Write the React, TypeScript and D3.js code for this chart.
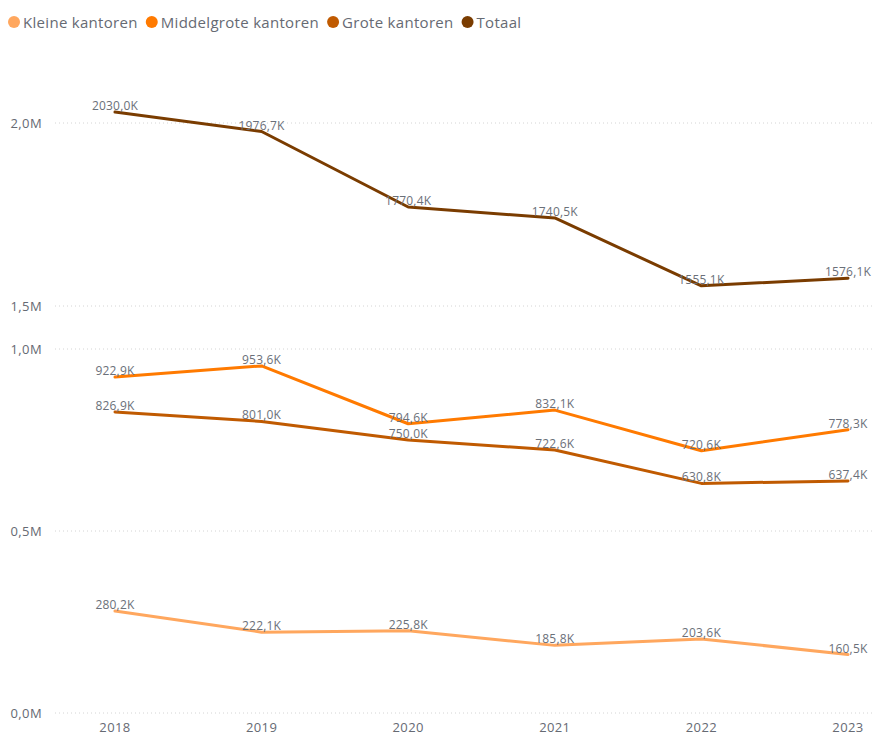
import React, { useEffect, useRef } from "react";
import * as d3 from "d3";

const years = ["2018", "2019", "2020", "2021", "2022", "2023"];
const kleine = [280.2, 222.1, 225.8, 185.8, 203.6, 160.5];
const middelgrote = [922.9, 953.6, 794.6, 832.1, 720.6, 778.3];
const grote = [826.9, 801.0, 750.0, 722.6, 630.8, 637.4];
const totaal = [2030.0, 1976.7, 1770.4, 1740.5, 1555.1, 1576.1];
const seriesNames = ["Kleine kantoren", "Middelgrote kantoren", "Grote kantoren", "Totaal"];
const seriesColors = ["#FFA75E", "#FF7A00", "#C05A00", "#7A3C00"];
const lowerTicks = [0, 500, 1000];
const upperTicks = [1500, 2000];

const W = 875;
const H = 736;

export default function App() {
  const ref = useRef<SVGSVGElement>(null);
  useEffect(() => {
    const svg = d3.select(ref.current);
    svg.selectAll("*").remove();
    const font = "'Open Sans', 'Segoe UI', sans-serif";

    const x = d3.scalePoint<string>().domain(years).range([115, 848]);
    const yLow = d3.scaleLinear().domain([0, 1000]).range([713, 349]);
    const yHigh = d3.scaleLinear().domain([1500, 2000]).range([306, 123]);
    const yFor = (v: number) => (v >= 1250 ? yHigh(v) : yLow(v));

    // gridlines & y labels
    const grid = svg.append("g");
    const ticks = [
      ...lowerTicks.map((t) => ({ v: t, y: yLow(t) })),
      ...upperTicks.map((t) => ({ v: t, y: yHigh(t) })),
    ];
    const fmtM = (v: number) => (v / 1000).toFixed(1).replace(".", ",") + "M";
    ticks.forEach((t) => {
      grid
        .append("line")
        .attr("x1", 55)
        .attr("x2", W)
        .attr("y1", t.y)
        .attr("y2", t.y)
        .attr("stroke", "#d4d4d4")
        .attr("stroke-width", 1)
        .attr("stroke-dasharray", "1,3");
      grid
        .append("text")
        .attr("x", 42)
        .attr("y", t.y)
        .attr("dy", "0.35em")
        .attr("text-anchor", "end")
        .attr("font-family", font)
        .attr("font-size", 13)
        .attr("letter-spacing", 0.4)
        .attr("fill", "#666a73")
        .text(fmtM(t.v));
    });

    // x labels
    years.forEach((yr) => {
      svg
        .append("text")
        .attr("x", x(yr)!)
        .attr("y", 732)
        .attr("text-anchor", "middle")
        .attr("font-family", font)
        .attr("font-size", 13)
        .attr("letter-spacing", 0.4)
        .attr("fill", "#666a73")
        .text(yr);
    });

    const allSeries = [kleine, middelgrote, grote, totaal];
    const line = d3
      .line<number>()
      .x((_, i) => x(years[i])!)
      .y((d) => yFor(d));

    allSeries.forEach((s, si) => {
      svg
        .append("path")
        .attr("d", line(s)!)
        .attr("fill", "none")
        .attr("stroke", seriesColors[si])
        .attr("stroke-width", 3)
        .attr("stroke-linejoin", "round")
        .attr("stroke-linecap", "round");
    });

    const fmtK = (v: number) => v.toFixed(1).replace(".", ",") + "K";
    allSeries.forEach((s) => {
      s.forEach((v, i) => {
        svg
          .append("text")
          .attr("x", x(years[i])!)
          .attr("y", yFor(v) - 2)
          .attr("text-anchor", "middle")
          .attr("font-family", font)
          .attr("font-size", 12)
          .attr("letter-spacing", 0.2)
          .attr("fill", "#6b7079")
          .text(fmtK(v));
      });
    });

    // legend
    const lg = svg.append("g");
    let lx = 8;
    seriesNames.forEach((n, i) => {
      lg.append("circle")
        .attr("cx", lx + 6)
        .attr("cy", 22)
        .attr("r", 6)
        .attr("fill", seriesColors[i]);
      const t = lg
        .append("text")
        .attr("x", lx + 15)
        .attr("y", 23)
        .attr("dy", "0.35em")
        .attr("font-family", font)
        .attr("font-size", 15)
        .attr("letter-spacing", 0.3)
        .attr("fill", "#666a73")
        .text(n);
      const w = (t.node() as SVGTextElement).getComputedTextLength();
      lx = lx + 15 + w + 8;
    });
  }, []);

  return (
    <div style={{ position: "absolute", left: 0, top: 0 }}>
      <svg ref={ref} width={W} height={H} style={{ display: "block", background: "#fff" }} />
    </div>
  );
}
